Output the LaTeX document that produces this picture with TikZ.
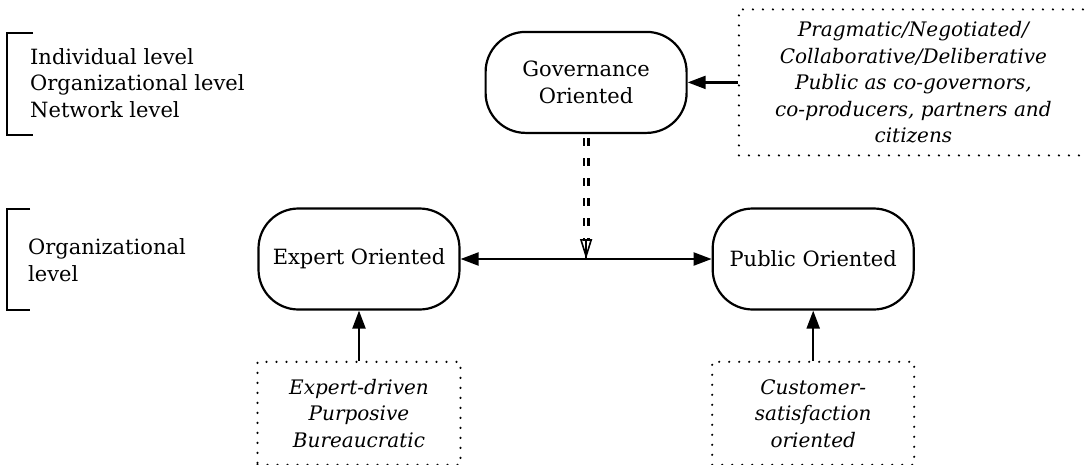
\documentclass[tikz,border=0pt]{standalone}
\usepackage{fontspec}
\setmainfont{DejaVu Serif}
\usetikzlibrary{arrows.meta, positioning, calc}

\begin{document}
\begin{tikzpicture}[
  x=1pt, y=-1pt,
  every node/.style = {font=\fontsize{21}{26.5}\selectfont},
  orient/.style = {draw, line width=2.2pt, rounded corners=40pt, minimum width=201pt, minimum height=101pt, align=center, inner sep=0pt},
  notebox/.style = {draw, line width=2.4pt, dash pattern=on 0pt off 10pt, line cap=round, minimum height=103pt, align=center, font=\fontsize{20}{26.5}\selectfont\itshape, inner sep=0pt},
  arrow/.style = {line width=2.2pt, -{Triangle[length=18pt, width=13pt]}},
  twoway/.style = {line width=2.2pt, {Triangle[length=18pt, width=13pt]}-{Triangle[length=18pt, width=13pt]}},
  dashline/.style = {line width=2.2pt, dash pattern=on 8pt off 12pt, dash phase=-4pt, shorten >=18pt},
  opentip/.style = {line width=1.6pt, -{Triangle[open, length=20pt, width=12pt]}},
  bracket/.style = {line width=2.2pt}
]
\useasboundingbox (0,0) rectangle (1085,464);

% ======================================================
% Level labels (left side)
% ======================================================
\node[anchor=west, align=left, inner sep=0pt] (levels) at (30,83) {Individual level\\Organizational level\\Network level};
\draw[bracket] (33,33) -- (7,33) -- (7,135) -- (33,135);

\node[anchor=west, align=left, inner sep=0pt] (orglevel) at (28,260) {Organizational\\level};
\draw[bracket] (30,209) -- (7,209) -- (7,310) -- (30,310);

% ======================================================
% Expert / Public oriented
% ======================================================
\node[orient] (expert) at (359,259) {Expert Oriented};
\node[orient, right=251pt of expert] (public) {Public Oriented};

% two-way arrow between them
\draw[twoway] (expert.east) -- (public.west);
\coordinate (meet) at ($(expert.east)!0.5!(public.west)$);

% ======================================================
% Governance oriented (top)
% ======================================================
\node[orient, above=125pt of meet] (gov) {Governance\\Oriented};

% double dashed influence line down to the two-way arrow
\draw[dashline, transform canvas={xshift=-2.4pt}] (gov.south) -- (meet);
\draw[dashline, transform canvas={xshift=2.4pt}] (gov.south) -- (meet);
\draw[opentip] ($(meet)+(0,-1)$) -- (meet);

\node[notebox, minimum width=349pt, minimum height=146pt, right=50pt of gov] (collab) {Pragmatic/Negotiated/\\Collaborative/Deliberative\\Public as co-governors,\\co-producers, partners and\\citizens};
\draw[arrow] (collab.west) -- (gov.east);

% ======================================================
% Notes below
% ======================================================
\node[notebox, minimum width=203pt, below=50pt of expert] (expertnote) {Expert-driven\\Purposive\\Bureaucratic};
\draw[arrow] (expertnote.north) -- (expert.south);

\node[notebox, minimum width=202pt, below=50pt of public] (customer) {Customer-\\satisfaction\\oriented};
\draw[arrow] (customer.north) -- (public.south);
\end{tikzpicture}
\end{document}
